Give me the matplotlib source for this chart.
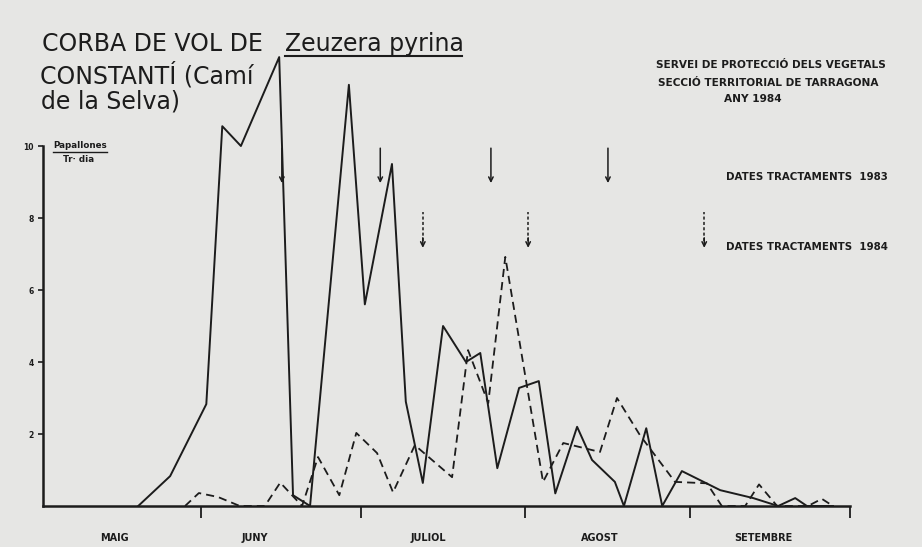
import numpy as np
import matplotlib.pyplot as plt
from matplotlib.lines import Line2D

# dies comptats des de l'1 de maig (1 juny = 31)
dies_continua = [19.2, 25.2, 32.0, 35.0, 38.5, 45.7, 48.3, 51.5, 58.8, 61.8,
                 66.9, 69.5, 72.7, 76.5, 80.8, 83.5, 86.7, 90.8, 94.5, 97.6,
                 101.7, 104.5, 108.8, 110.5, 114.7, 117.7, 121.4, 128.6, 134.8,
                 139.5, 142.7, 144.9, 149.8]
papallones_continua = [0, 0.83, 2.83, 10.55, 10.0, 12.47, 0.3, 0, 11.7, 5.6,
                       9.5, 2.9, 0.64, 5.0, 4.0, 4.25, 1.05, 3.28, 3.47, 0.35,
                       2.2, 1.28, 0.67, 0, 2.16, 0, 0.97, 0.44, 0.22,
                       0, 0.22, 0, 0]

dies_discontinua = [28.0, 30.6, 34.2, 38.3, 43.0, 45.9, 50.0, 53.0, 57.0, 60.2,
                    64.1, 67.1, 71.2, 78.2, 81.2, 85.0, 88.2, 95.3, 99.1, 106.0,
                    109.2, 113.5, 120.1, 126.1, 128.9, 133.3, 135.9, 139.3, 145.1,
                    147.7, 149.8]
papallones_discontinua = [0, 0.36, 0.25, 0, 0, 0.65, 0, 1.36, 0.3, 2.03,
                          1.47, 0.38, 1.69, 0.8, 4.33, 2.86, 6.92, 0.67, 1.75, 1.5,
                          3.0, 1.97, 0.67, 0.63, 0, 0, 0.6, 0, 0,
                          0.2, 0]

tractaments_1983 = [46.2, 64.7, 85.5, 107.5]
tractaments_1984 = [72.7, 92.5]
llegenda_1984 = 125.6

mesos = ['MAIG', 'JUNY', 'JULIOL', 'AGOST', 'SETEMBRE']
pos_mesos = [14.7, 41.2, 73.7, 106.0, 136.8]
limits_mesos = [31, 61, 92, 123, 153]
yticks = [2, 4, 6, 8, 10]

W, H = 922, 547
tinta = '#1c1c1c'
paper = '#e6e6e4'


def fx(p):
    return p / W


def fy(p):
    return 1 - p / H


fig = plt.figure(figsize=(W / 100, H / 100), dpi=100, facecolor=paper)
ax = fig.add_axes([fx(43), 41 / H, 807 / W, 486 / H])
ax.set_facecolor('none')
ax.set_xlim(1.3, 153)
ax.set_ylim(0, 13.5)

ax.plot(dies_continua, papallones_continua, color=tinta, lw=1.4)
ax.plot(dies_discontinua, papallones_discontinua, color=tinta, lw=1.3,
        ls=(0, (4.5, 2.8)))

# fletxes dels tractaments
for x in tractaments_1983:
    ax.annotate('', xy=(x, 8.97), xytext=(x, 9.94),
                arrowprops=dict(arrowstyle='->', color=tinta, lw=1.1,
                                shrinkA=0, shrinkB=0, mutation_scale=8))
for x in tractaments_1984 + [llegenda_1984]:
    ax.vlines(x, 7.35, 8.17, color=tinta, lw=1.1, ls=(0, (2, 1.5)))
    ax.annotate('', xy=(x, 7.17), xytext=(x, 7.45),
                arrowprops=dict(arrowstyle='->', color=tinta, lw=1.1,
                                shrinkA=0, shrinkB=0, mutation_scale=8))

# eixos
for s in ['top', 'right']:
    ax.spines[s].set_visible(False)
ax.spines['left'].set_bounds(0, 10)
ax.spines['left'].set_linewidth(1.8)
ax.spines['bottom'].set_linewidth(1.8)
ax.spines['left'].set_color(tinta)
ax.spines['bottom'].set_color(tinta)
ax.set_yticks(yticks)
ax.set_yticklabels([str(v) for v in yticks], fontsize=5.5, fontweight='bold',
                   color=tinta)
ax.tick_params(axis='y', direction='out', length=3.6, width=1.2, pad=3,
               colors=tinta)
ax.set_xticks(limits_mesos)
ax.set_xticklabels([])
ax.tick_params(axis='x', direction='out', length=8.6, width=1.3, colors=tinta)

trans = ax.get_xaxis_transform()
for nom, x in zip(mesos, pos_mesos):
    ax.text(x, -32 / 486, nom, transform=trans, ha='center', va='center',
            fontsize=7, fontweight='bold', color=tinta)

# unitats
fig.text(fx(80), fy(145), 'Papallones', ha='center', va='center',
         fontsize=6.3, fontweight='bold', color=tinta)
fig.add_artist(Line2D([fx(53), fx(107)], [fy(152), fy(152)], color=tinta,
                      lw=1.0, transform=fig.transFigure))
fig.text(fx(79), fy(159), 'Tr· dia', ha='center', va='center',
         fontsize=6.3, fontweight='bold', color=tinta)

# títol
fig.text(fx(42), fy(51), 'CORBA DE VOL DE', fontsize=17, va='baseline',
         color=tinta)
fig.text(fx(285), fy(51), 'Zeuzera pyrina', fontsize=17, va='baseline',
         color=tinta)
fig.add_artist(Line2D([fx(285), fx(462)], [fy(56), fy(56)], color=tinta,
                      lw=1.5, transform=fig.transFigure))
fig.text(fx(40), fy(83), 'CONSTANTÍ (Camí', fontsize=17, va='baseline',
         color=tinta)
fig.text(fx(41), fy(108), 'de la Selva)', fontsize=17, va='baseline',
         color=tinta)

fig.text(fx(771), fy(65), 'SERVEI DE PROTECCIÓ DELS VEGETALS', ha='center',
         va='center', fontsize=7.6, fontweight='bold', color=tinta)
fig.text(fx(768), fy(83), 'SECCIÓ TERRITORIAL DE TARRAGONA', ha='center',
         va='center', fontsize=7.6, fontweight='bold', color=tinta)
fig.text(fx(753), fy(99), 'ANY 1984', ha='center', va='center',
         fontsize=7.6, fontweight='bold', color=tinta)
fig.text(fx(807), fy(177), 'DATES TRACTAMENTS  1983', ha='center',
         va='center', fontsize=7.4, fontweight='bold', color=tinta)
fig.text(fx(807), fy(247), 'DATES TRACTAMENTS  1984', ha='center',
         va='center', fontsize=7.4, fontweight='bold', color=tinta)

fig.savefig('out.png', dpi=100, facecolor=paper)
